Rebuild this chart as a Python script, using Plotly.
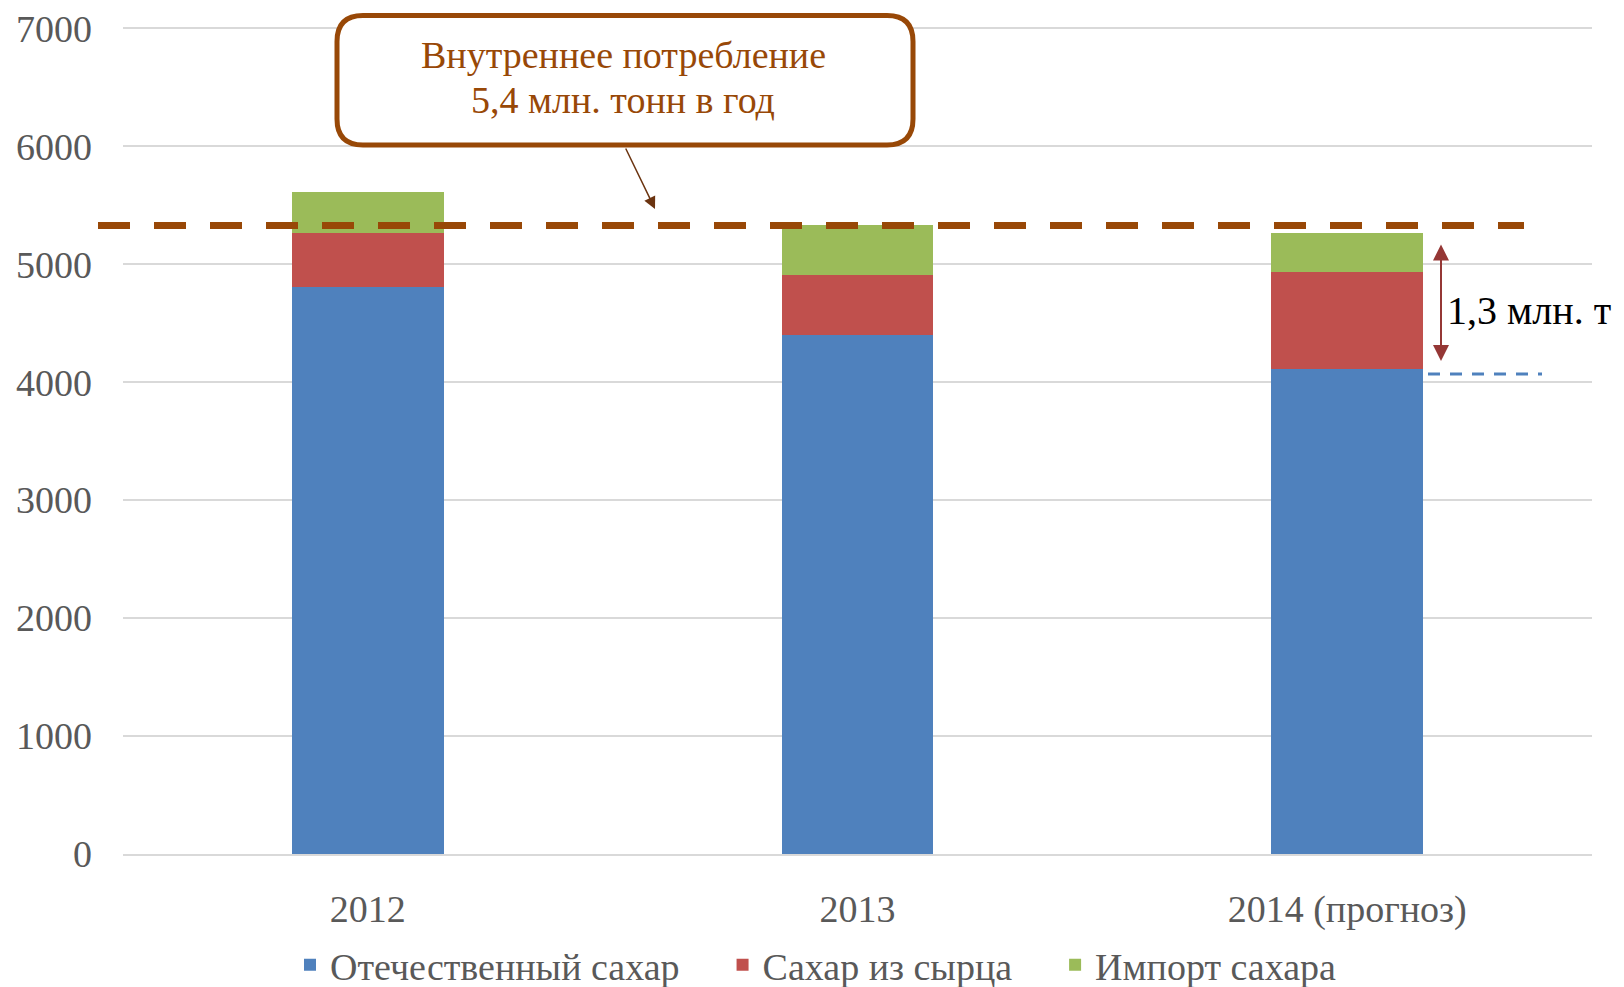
import plotly.graph_objects as go

# ---- data ----
categories = ["2012", "2013", "2014 (прогноз)"]
domestic = [4805, 4400, 4110]        # Отечественный сахар
from_raw = [458, 511, 822]           # Сахар из сырца
imports = [347, 422, 332]            # Импорт сахара
series_names = ["Отечественный сахар", "Сахар из сырца", "Импорт сахара"]
consumption = 5330                   # Внутреннее потребление (ref line)
y_ticks = [0, 1000, 2000, 3000, 4000, 5000, 6000, 7000]

colors = ["#4F81BD", "#C0504D", "#9BBB59"]
brown = "#984807"
serif = "Liberation Serif, Times New Roman, serif"
FS = 38
legend_pad = ["\u00a0" * 4, "\u00a0" * 4, ""]  # extra spacing between legend entries

W, H = 1624, 987
# plot area in page pixels: x 123..1592, y 28..854
ml, mr, mt, mb = 123, 1624 - 1592, 27, 987 - 854
pw, ph = W - ml - mr, H - mt - mb

def px_x(p):
    return (p - ml) / pw

def px_y(p):
    return (H - mb - p) / ph

fig = go.Figure()
for name, pad, vals, c in zip(series_names, legend_pad, [domestic, from_raw, imports], colors):
    fig.add_trace(go.Bar(x=categories, y=vals, name=name + pad,
                         marker=dict(color=c, line=dict(width=0))))

# dashed consumption line
fig.add_shape(type="line", xref="paper", yref="y",
              x0=px_x(98), x1=px_x(1524), y0=consumption, y1=consumption,
              line=dict(color=brown, width=7, dash="32px,24px"), layer="above")

# blue dashed line at 2014 domestic level
fig.add_shape(type="line", xref="paper", yref="y",
              x0=px_x(1428), x1=px_x(1542), y0=domestic[2] - 40, y1=domestic[2] - 40,
              line=dict(color="#4F81BD", width=3, dash="12px,10px"))

# double arrow for gap
arrow_x = px_x(1441)
fig.add_annotation(xref="paper", yref="paper", x=arrow_x, y=px_y(361),
                   ax=0, ay=-118, axref="pixel", ayref="pixel",
                   showarrow=True, arrowhead=2, arrowsize=1.6, arrowwidth=2,
                   arrowside="end+start", arrowcolor="#953735", text="")
fig.add_annotation(xref="paper", yref="paper", x=px_x(1445), y=px_y(310),
                   xanchor="left", yanchor="middle", showarrow=False,
                   text="1,3 млн. т", font=dict(family=serif, size=40, color="#000000"))

# rounded callout box
x0, x1, y0, y1 = 337, 913, 15.5, 145
r = 26
rx, ry = r / pw, r / ph
X0, X1, Y0, Y1 = px_x(x0), px_x(x1), px_y(y1), px_y(y0)
path = (f"M {X0+rx},{Y0} L {X1-rx},{Y0} Q {X1},{Y0} {X1},{Y0+ry} "
        f"L {X1},{Y1-ry} Q {X1},{Y1} {X1-rx},{Y1} L {X0+rx},{Y1} "
        f"Q {X0},{Y1} {X0},{Y1-ry} L {X0},{Y0+ry} Q {X0},{Y0} {X0+rx},{Y0} Z")
fig.add_shape(type="path", xref="paper", yref="paper", path=path,
              line=dict(color=brown, width=5), fillcolor="white", layer="above")
fig.add_annotation(xref="paper", yref="paper", x=px_x(623), y=px_y(55),
                   xanchor="center", yanchor="middle", showarrow=False,
                   text="Внутреннее потребление",
                   font=dict(family=serif, size=FS, color=brown))
fig.add_annotation(xref="paper", yref="paper", x=px_x(623), y=px_y(100),
                   xanchor="center", yanchor="middle", showarrow=False,
                   text="5,4 млн. тонн в год",
                   font=dict(family=serif, size=FS, color=brown))
# callout pointer
fig.add_annotation(xref="paper", yref="paper", x=px_x(655), y=px_y(209),
                   ax=-30, ay=-62, showarrow=True, arrowhead=2, arrowsize=1.6,
                   arrowwidth=1.5, arrowcolor="#6B3410", text="")

fig.update_layout(
    width=W, height=H,
    barmode="stack", bargap=0.69,
    margin=dict(l=ml, r=mr, t=mt, b=mb, autoexpand=False),
    plot_bgcolor="white", paper_bgcolor="white",
    font=dict(family=serif, size=FS, color="#595959"),
    legend=dict(orientation="h", x=px_x(290), xanchor="left", y=px_y(965), yanchor="middle",
                bgcolor="rgba(0,0,0,0)",
                font=dict(family=serif, size=FS, color="#595959"),
                itemwidth=30, traceorder="normal"),
    showlegend=True,
)
fig.update_yaxes(range=[0, 7012], tickvals=y_ticks, showgrid=True,
                 gridcolor="#D9D9D9", gridwidth=1.5, zeroline=False,
                 showline=False, ticklabelstandoff=30, automargin=False,
                 tickfont=dict(family=serif, size=FS, color="#595959"))
fig.update_xaxes(showgrid=False, showline=True, linecolor="#D9D9D9", linewidth=1.5,
                 ticklabelstandoff=21, automargin=False,
                 tickfont=dict(family=serif, size=FS, color="#595959"))

fig.write_html("out.html", config={"displayModeBar": False},
               post_script="document.body.style.margin='0px';document.body.style.overflow='hidden';")
